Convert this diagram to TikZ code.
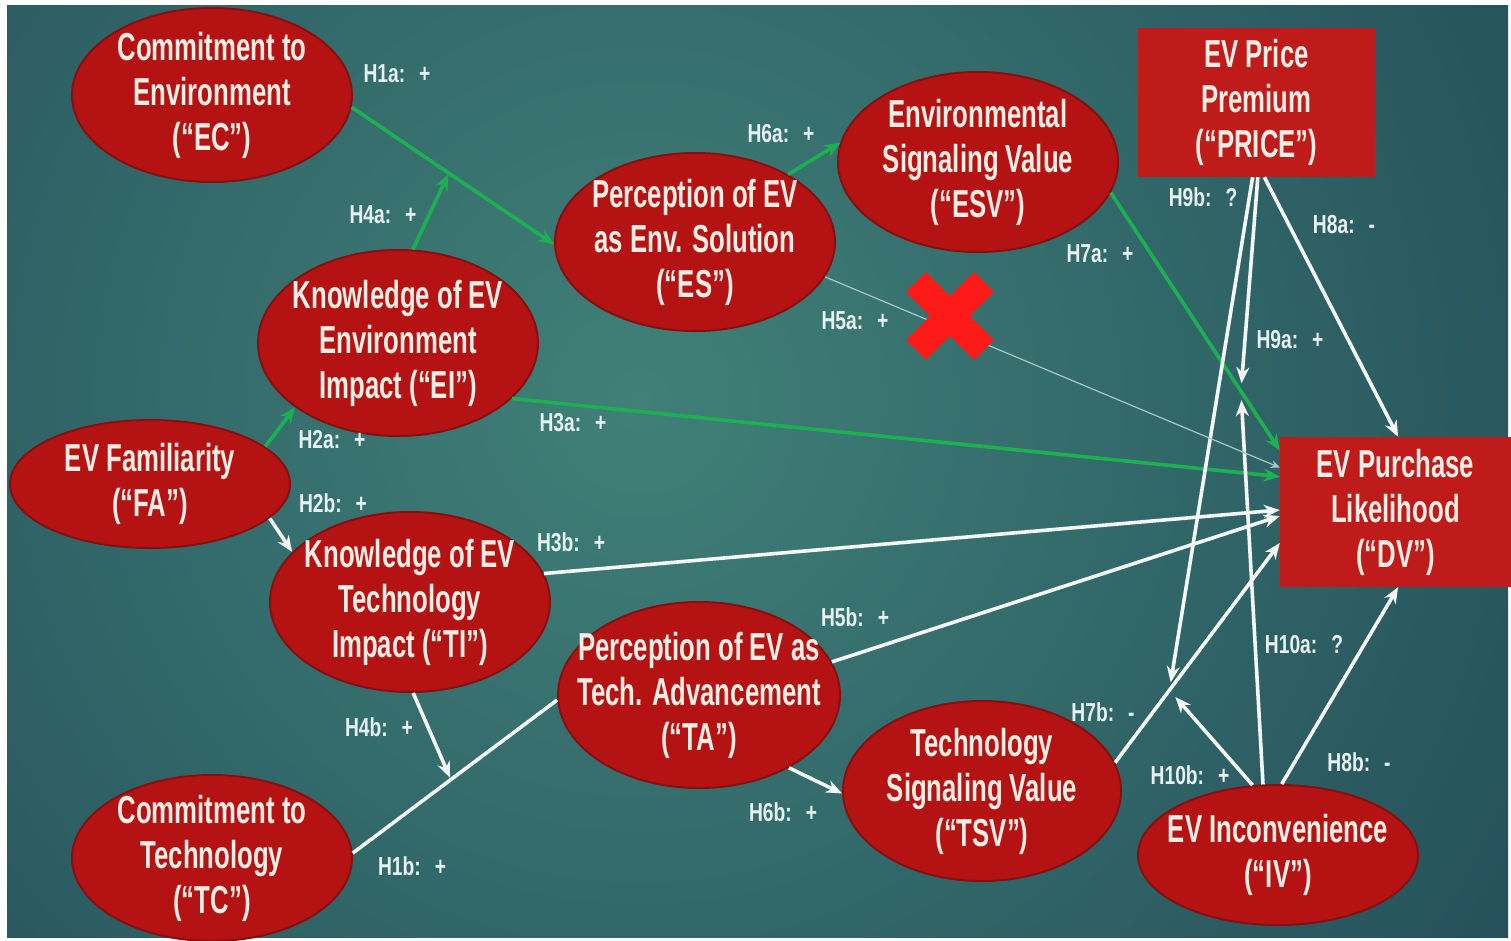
\documentclass[tikz,border=0pt]{standalone}
\usepackage{fontspec}
\usetikzlibrary{shapes.geometric,arrows.meta,calc}
\newfontfamily\lletra{Liberation Sans}[FakeStretch=0.66]
\newfontfamily\lletraetiq{Liberation Sans}[FakeStretch=0.74]
\definecolor{fonsclar}{HTML}{408078}
\definecolor{fonsfosc}{HTML}{102C45}
\definecolor{vermell}{HTML}{B51313}
\definecolor{vora}{HTML}{861010}
\definecolor{vermellcaixa}{HTML}{BF1B1B}
\definecolor{verd}{HTML}{1DB052}
\definecolor{blanc}{HTML}{F3F7F5}
\definecolor{grisclar}{HTML}{A9C6C6}
\definecolor{lletrac}{HTML}{F8EDE4}
\definecolor{etiq}{HTML}{E6F3F2}
\definecolor{creu}{HTML}{FF1A1A}
\newcommand{\hip}[2]{#1:\hspace{14pt}#2}
\newcommand{\puntal}{\rule{0pt}{43pt}}
\tikzset{
  constructe/.style={ellipse, draw=vora, line width=2pt, fill=vermell, text=lletrac,
    align=center, inner sep=-40pt, minimum width=280pt, minimum height=180pt,
    execute at begin node=\puntal,
    font=\lletra\bfseries\fontsize{39}{45}\selectfont},
  caixa/.style={rectangle, fill=vermellcaixa, text=lletrac, align=center, inner sep=0pt,
    execute at begin node=\puntal,
    font=\lletra\bfseries\fontsize{39}{45}\selectfont},
  fletxa/.style={line width=3.6pt, -{Stealth[length=16pt,width=13pt]}},
  verda/.style={fletxa, draw=verd},
  blanca/.style={fletxa, draw=blanc},
  tenue/.style={line width=1.2pt, draw=grisclar, -{Stealth[length=9pt,width=8pt]}},
  hipotesi/.style={text=etiq, inner sep=0pt,
    font=\lletraetiq\bfseries\fontsize{26}{28}\selectfont},
  creuvermella/.style={draw=creu, line width=28pt},
}

\begin{document}
\begin{tikzpicture}[x=1pt,y=-1pt]
  \fill[white] (0,0) rectangle (1511,940);
  \begin{scope}
    \clip (7,5) rectangle (1508,937);
    \shade[inner color=fonsclar, outer color=fonsfosc] (640,400) circle (1800);
  \end{scope}
  \useasboundingbox (0,0) rectangle (1511,940);

  \node[constructe, minimum height=174pt] (EC) at (212,95) {Commitment to\\Environment\\(“EC”)};
  \node[constructe, minimum height=178pt] (ES) at (695,242) {Perception of EV\\as Env. Solution\\(“ES”)};
  \node[constructe] (ESV) at (978,162) {Environmental\\Signaling Value\\(“ESV”)};
  \node[caixa, minimum width=237pt, minimum height=149pt] (PRICE) at (1256.5,102.5) {EV Price\\Premium\\(“PRICE”)};
  \node[constructe, minimum height=186pt] (EI) at (398,343) {Knowledge of EV\\Environment\\Impact (“EI”)};
  \node[constructe, minimum height=128pt] (FA) at (150,484) {EV Familiarity\\(“FA”)};
  \node[constructe] (TI) at (410,602) {Knowledge of EV\\Technology\\Impact (“TI”)};
  \node[constructe, minimum width=282pt, minimum height=186pt] (TA) at (699,695) {Perception of EV as\\Tech. Advancement\\(“TA”)};
  \node[constructe, minimum width=278pt] (TSV) at (982,791) {Technology\\Signaling Value\\(“TSV”)};
  \node[constructe, minimum height=166pt] (TC) at (212,858) {Commitment to\\Technology\\(“TC”)};
  \node[constructe, minimum height=140pt] (IV) at (1278,855) {EV Inconvenience\\(“IV”)};
  \node[caixa, minimum width=231pt, minimum height=150pt] (DV) at (1395.5,512) {EV Purchase\\Likelihood\\(“DV”)};

  \coordinate (mH1a) at ($(EC.-5)!0.48!(ES.181)$);
  \coordinate (mH1b) at ($(TC.2)!0.48!(TA.182)$);
  \coordinate (mH7a) at ($(ESV.-13)!0.77!(DV.152)$);
  \coordinate (mH7b) at ($(TSV.12)!0.33!(DV.195)$);
  \coordinate (creu) at (950,316);

  \draw[verda] (EC.-5) -- (ES.181);
  \draw[verda, shorten >=1pt] (EI.81) -- (mH1a);
  \draw[verda] (FA.18) -- (EI.212);
  \draw[verda] (EI.-26) -- (DV.163);
  \draw[verda] (ES.36) -- (ESV.172);
  \draw[verda] (ESV.-13) -- (DV.152);

  \draw[blanca] (FA.-16) -- (TI.157);
  \draw[blanca] (TI.12) -- (DV.179);
  \draw[blanca, shorten >=2pt] (TI.-88) -- (mH1b);
  \draw[blanca, -] (TC.2) -- (TA.182);
  \draw[blanca] (TA.14) -- (DV.182);
  \draw[blanca] (TA.-39) -- (TSV.181);
  \draw[blanca] (TSV.12) -- (DV.195);
  \draw[blanca] (PRICE.-84) -- (DV.88);
  \draw[blanca, shorten >=8pt] (PRICE.-89) -- (mH7a);
  \draw[blanca, shorten >=8pt] (PRICE.-93) -- (mH7b);
  \draw[blanca, shorten >=9pt] (IV.102) -- (mH7a);
  \draw[blanca, shorten >=9pt] (IV.110) -- (mH7b);
  \draw[blanca] (IV.87) -- (DV.-88);
  \draw[tenue] (ES.-15) -- (DV.159);

  \draw[creuvermella] ($(creu)+(-34,-34)$) -- ($(creu)+(34,34)$);
  \draw[creuvermella] ($(creu)+(-34,34)$) -- ($(creu)+(34,-34)$);

  \node[hipotesi] (h1a) at (397,74) {\hip{H1a}{+}};
  \node[hipotesi] (h4a) at (383,215) {\hip{H4a}{+}};
  \node[hipotesi] (h6a) at (781,134) {\hip{H6a}{+}};
  \node[hipotesi] (h5a) at (855,321) {\hip{H5a}{+}};
  \node[hipotesi] (h7a) at (1100,254) {\hip{H7a}{+}};
  \node[hipotesi] (h9b) at (1203,197) {\hip{H9b}{?}};
  \node[hipotesi] (h8a) at (1344,225) {\hip{H8a}{-}};
  \node[hipotesi] (h9a) at (1290,340) {\hip{H9a}{+}};
  \node[hipotesi] (h3a) at (573,423) {\hip{H3a}{+}};
  \node[hipotesi] (h2a) at (332,440) {\hip{H2a}{+}};
  \node[hipotesi] (h2b) at (333,503) {\hip{H2b}{+}};
  \node[hipotesi] (h3b) at (571,542) {\hip{H3b}{+}};
  \node[hipotesi] (h5b) at (855,617) {\hip{H5b}{+}};
  \node[hipotesi] (h10a) at (1304,645) {\hip{H10a}{?}};
  \node[hipotesi] (h7b) at (1103,712) {\hip{H7b}{-}};
  \node[hipotesi] (h4b) at (379,727) {\hip{H4b}{+}};
  \node[hipotesi] (h8b) at (1359,762) {\hip{H8b}{-}};
  \node[hipotesi] (h10b) at (1190,775) {\hip{H10b}{+}};
  \node[hipotesi] (h6b) at (783,812) {\hip{H6b}{+}};
  \node[hipotesi] (h1b) at (412,866) {\hip{H1b}{+}};
\end{tikzpicture}
\end{document}
